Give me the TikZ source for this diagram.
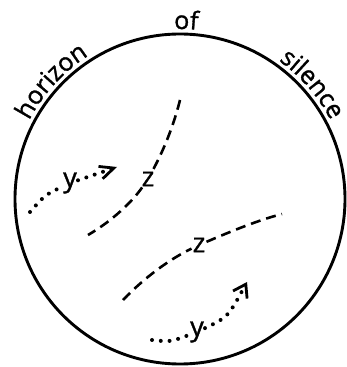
\documentclass[tikz,border=0pt]{standalone}
\usepackage{fontspec}
\newfontfamily\osans[FakeBold=1.2]{Open Sans}
\usetikzlibrary{decorations.text,arrows.meta,calc}
\newcommand\arcfont{\osans\fontsize{25pt}{25pt}\selectfont}
\newcommand\lblfont{\osans\fontsize{27pt}{27pt}\selectfont}
\begin{document}
\begin{tikzpicture}[x=1pt,y=1pt,
  rim/.style={line width=2.9pt},
  dashline/.style={line width=2.6pt, dash pattern=on 10pt off 6pt},
  dotline/.style={line width=4pt, line cap=round, dash pattern=on 0pt off 8.8pt},
  lbl/.style={font=\lblfont, inner sep=1pt},
  arcword/.style={decorate, decoration={text along path, text={|\arcfont|#1}, text align=center}}]
\useasboundingbox (0,0) rectangle (347,367);
\coordinate (O) at (180,168);
\draw[rim] (O) circle[radius=165pt];
\path[arcword=horizon] ($(O)+(167.5:170pt)$) arc[start angle=167.5,end angle=107.5,radius=170pt];
\path[arcword=of] ($(O)+(118:170pt)$) arc[start angle=118,end angle=58,radius=170pt];
\path[arcword=silence] ($(O)+(71:170pt)$) arc[start angle=71,end angle=11,radius=170pt];
% labels
\node[lbl] (z1) at (148,188) {z};
\node[lbl] (z2) at (199,122) {z};
\node[lbl] (y1) at (70,184) {y};
\node[lbl] (y2) at (197,35) {y};
% free ends
\coordinate (a1) at (180,267);
\coordinate (a2) at (88,132);
\coordinate (b1) at (123,67);
\coordinate (b2) at (282,153);
\coordinate (p1) at (30,155);
\coordinate (p2) at (117,200);
\coordinate (q1) at (152,27);
\coordinate (q2) at (247,85);
% dashed curves
\draw[dashline] (a1) .. controls (172,235) and (160,210) .. (z1);
\draw[dashline] (z1) .. controls (132,165) and (112,146) .. (a2);
\draw[dashline] (b1) .. controls (145,90) and (170,108) .. (z2);
\draw[dashline] (z2) .. controls (225,133) and (255,146) .. (b2);
% dotted arrows
\draw[dotline] (p1) .. controls (45,172) .. (y1);
\draw[dotline, -{Straight Barb[length=14pt,width=13pt,line width=2.8pt]}] (y1) -- (p2);
\draw[dotline] (q1) .. controls (170,25) .. (y2);
\draw[dotline, -{Straight Barb[length=12pt,width=16pt,line width=2.8pt]}] (y2) .. controls (228,50) .. (q2);
\end{tikzpicture}
\end{document}
